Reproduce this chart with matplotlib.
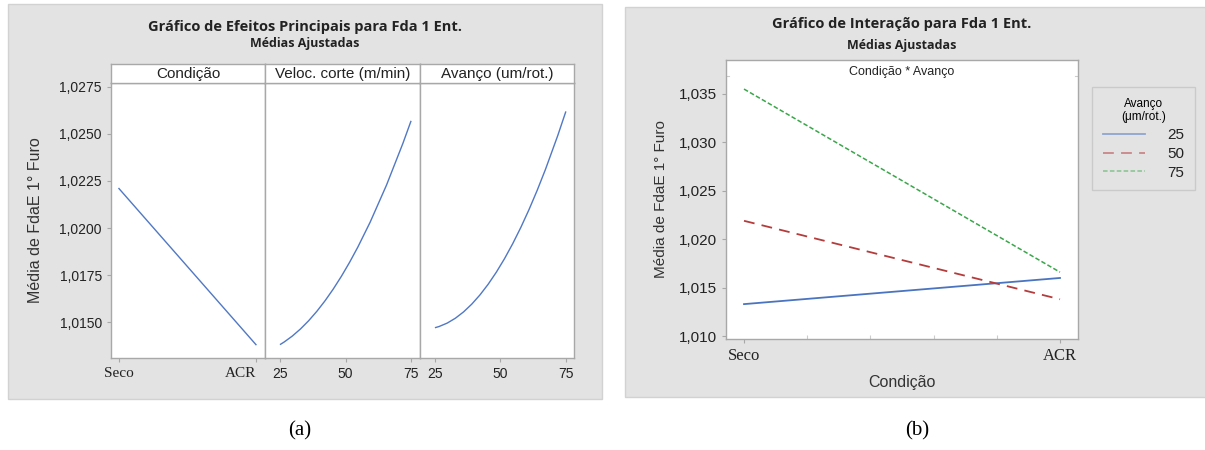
import matplotlib
matplotlib.use('Agg')
import matplotlib.pyplot as plt
import matplotlib.patches as patches
from matplotlib.path import Path
from matplotlib.lines import Line2D

W, H = 1205, 450

# main effects (fitted means)
cond_labels = ['Seco', 'ACR']
cond_means = [1.0221, 1.0138]
veloc_levels = [25, 50, 75]
veloc_means = [1.0138, 1.0178, 1.0257]
avanco_levels = [25, 50, 75]
avanco_means = [1.0147, 1.0180, 1.0262]

# interaction Condição * Avanço
inter_levels = ['25', '50', '75']
inter_means = {'25': [1.0133, 1.0160],
               '50': [1.0219, 1.0138],
               '75': [1.0355, 1.0166]}

bg = '#e3e3e3'
frame = '#a8a8a8'
blue = '#5078c4'
sans = ['Liberation Sans', 'DejaVu Sans']
serif = ['Liberation Serif', 'DejaVu Serif']
title_font = ['Open Sans', 'DejaVu Sans']


def rect(x0, y0, x1, y1):
    return [x0 / W, 1 - y1 / H, (x1 - x0) / W, (y1 - y0) / H]


def fx(x):
    return x / W


def fy(y):
    return 1 - y / H


def quad_curve(ax, xs, ys, color):
    # parabola through the three level means, drawn as a quadratic Bezier
    cx = xs[1]
    cy = 2 * ys[1] - (ys[0] + ys[2]) / 2
    path = Path([(xs[0], ys[0]), (cx, cy), (xs[2], ys[2])],
                [Path.MOVETO, Path.CURVE3, Path.CURVE3])
    ax.add_patch(patches.PathPatch(path, facecolor='none', edgecolor=color, lw=1))


fig = plt.figure(figsize=(W / 100, H / 100), dpi=100)
fig.patch.set_facecolor('white')

for x0, y0, x1, y1 in [(8, 4, 602, 399), (625, 7, 1210, 397)]:
    fig.add_artist(patches.Rectangle((fx(x0), fy(y1)), fx(x1 - x0), (y1 - y0) / H,
                                     transform=fig.transFigure, facecolor=bg,
                                     edgecolor='#d2d2d2', lw=1, zorder=0))

# ---------------- (a) main effects ----------------
fig.text(fx(305), fy(27), 'Gráfico de Efeitos Principais para Fda 1 Ent.', ha='center', va='center',
         fontsize=10.5, fontweight='bold', family=title_font, color='#222222')
fig.text(fx(305), fy(44), 'Médias Ajustadas', ha='center', va='center',
         fontsize=9, fontweight='bold', family=title_font, color='#222222')

ylo, yhi = 1.01309, 1.02771
panels = [(111, 265, 'Condição'), (265, 420, 'Veloc. corte (m/min)'), (420, 574, 'Avanço (um/rot.)')]
axes_a = []
for i, (x0, x1, name) in enumerate(panels):
    ax = fig.add_axes(rect(x0, 83, x1, 358))
    ax.set_facecolor('white')
    ax.set_ylim(ylo, yhi)
    for s in ax.spines.values():
        s.set_color(frame)
        s.set_linewidth(1.0)
    ax.tick_params(axis='both', colors=frame, length=3, width=0.8, labelcolor='#222222')
    if i == 0:
        ax.set_yticks([1.0150, 1.0175, 1.0200, 1.0225, 1.0250, 1.0275])
        ax.set_yticklabels(['1,0150', '1,0175', '1,0200', '1,0225', '1,0250', '1,0275'],
                           fontsize=10, family=sans)
        ax.set_ylabel('Média de FdaE 1° Furo', fontsize=11.5, family=sans, color='#333333', labelpad=12)
    else:
        ax.set_yticks([])
    axes_a.append(ax)

    sax = fig.add_axes(rect(x0, 64, x1, 83))
    sax.set_facecolor('white')
    sax.set_xticks([])
    sax.set_yticks([])
    for s in sax.spines.values():
        s.set_color(frame)
        s.set_linewidth(1.0)
    sax.text(0.5, 0.45, name, transform=sax.transAxes, ha='center', va='center',
             fontsize=11, family=sans, color='#222222')

ax = axes_a[0]
ax.plot([0, 1], cond_means, color=blue, lw=1)
ax.set_xlim(-0.058, 1.066)
ax.set_xticks([0, 1])
ax.set_xticklabels(cond_labels, fontsize=11, family=serif)
ax.get_xticklabels()[1].set_ha('right')

ax = axes_a[1]
quad_curve(ax, veloc_levels, veloc_means, blue)
ax.set_xlim(19.3, 78.4)
ax.set_xticks(veloc_levels)
ax.set_xticklabels([str(v) for v in veloc_levels], fontsize=10, family=sans)

ax = axes_a[2]
quad_curve(ax, avanco_levels, avanco_means, blue)
ax.set_xlim(19.3, 78.1)
ax.set_xticks(avanco_levels)
ax.set_xticklabels([str(v) for v in avanco_levels], fontsize=10, family=sans)

# ---------------- (b) interaction ----------------
fig.text(fx(902), fy(24), 'Gráfico de Interação para Fda 1 Ent.', ha='center', va='center',
         fontsize=10.5, fontweight='bold', family=title_font, color='#222222')
fig.text(fx(902), fy(45), 'Médias Ajustadas', ha='center', va='center',
         fontsize=9, fontweight='bold', family=title_font, color='#222222')

bx = fig.add_axes(rect(726, 60, 1078, 339))
bx.set_facecolor('white')
for s in bx.spines.values():
    s.set_color(frame)
    s.set_linewidth(1.0)
bx.set_xlim(-0.057, 1.057)
bx.set_ylim(1.0097, 1.0385)

styles = {'25': dict(color='#4a74c0', ls='-', lw=1.3),
          '50': dict(color='#b43c3c', ls=(0, (6, 4)), lw=1.3),
          '75': dict(color='#3aa64a', ls=(0, (3, 1.5)), lw=1.1)}
handles = []
for lvl in inter_levels:
    bx.plot([0, 1], inter_means[lvl], **styles[lvl])
    st = dict(styles[lvl])
    st['alpha'] = 0.55
    handles.append(Line2D([], [], **st))

bx.set_yticks([1.010, 1.015, 1.020, 1.025, 1.030, 1.035])
bx.set_yticklabels(['1,010', '1,015', '1,020', '1,025', '1,030', '1,035'], fontsize=11, family=sans)
bx.set_xticks([0, 1])
bx.set_xticklabels(['Seco', 'ACR'], fontsize=12, family=serif)
bx.set_xticks([0.2, 0.4, 0.6, 0.8], minor=True)
bx.tick_params(axis='both', which='major', colors=frame, length=3, width=0.8, labelcolor='#222222')
bx.tick_params(axis='x', which='minor', direction='in', colors='#cccccc', length=3, width=0.8)
bx.set_ylabel('Média de FdaE 1° Furo', fontsize=11, family=sans, color='#333333', labelpad=8)
bx.set_xlabel('Condição', fontsize=11.5, family=sans, color='#333333', labelpad=8)

# strip inside the frame
bx.text(0.5, 1 - 12 / 279, 'Condição * Avanço', transform=bx.transAxes, ha='center', va='center',
        fontsize=9, family=sans, color='#222222')
strip_y = 1 - 16 / 279
for xa, xb in [(0, 0.008), (0.992, 1.0)]:
    bx.plot([xa, xb], [strip_y, strip_y], transform=bx.transAxes, color='#cccccc', lw=0.8)

leg = bx.legend(handles, inter_levels, title='Avanço\n(μm/rot.)', loc='upper left',
                bbox_to_anchor=(fx(1092), fy(87)), bbox_transform=fig.transFigure,
                frameon=True, fancybox=False, fontsize=11, title_fontsize=8.5,
                handlelength=2.75, handletextpad=1.5, borderpad=0.7, labelspacing=0.31,
                borderaxespad=0)
leg.get_frame().set_facecolor(bg)
leg.get_frame().set_edgecolor('#c4c4c4')
leg.get_title().set_ha('center')
for t in leg.get_texts():
    t.set_family(sans)
    t.set_color('#222222')
leg.get_title().set_family(sans)

# captions
fig.text(fx(300), fy(431), '(a)', ha='center', va='center', fontsize=15, family=serif)
fig.text(fx(917), fy(431), '(b)', ha='center', va='center', fontsize=15, family=serif)

fig.savefig('out.png', dpi=100)
